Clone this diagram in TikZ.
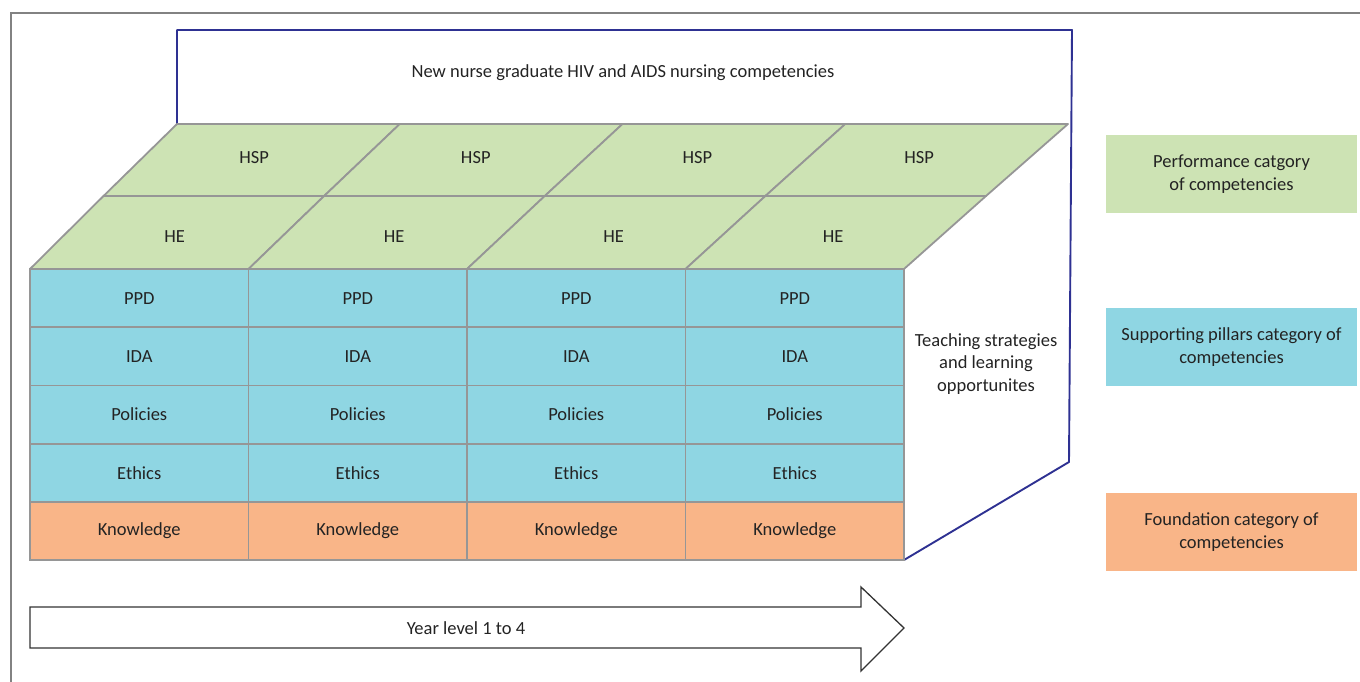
\documentclass[tikz,border=0pt]{standalone}
\usepackage{fontspec}
\setmainfont{Carlito}
\definecolor{cgreen}{RGB}{205,227,180}
\definecolor{cblue}{RGB}{143,214,227}
\definecolor{corange}{RGB}{249,181,136}
\definecolor{cgrid}{RGB}{150,150,150}
\definecolor{cnavy}{RGB}{46,49,146}
\definecolor{ctext}{RGB}{35,35,35}
\definecolor{cframe}{RGB}{130,130,130}
\begin{document}
\begin{tikzpicture}[x=1pt,y=-1pt,
  every node/.style={text=ctext,font=\fontsize{18.5}{22.5}\selectfont},
  cell/.style={draw=cgrid,line width=1.8pt,minimum width=218.5pt,minimum height=58.2pt,inner sep=0pt},
  topcell/.style={draw=cgrid,line width=1.8pt,fill=cgreen,line join=round},
  legend/.style={minimum width=251pt,minimum height=78pt,inner sep=0pt,align=center},
  plain/.style={inner sep=0pt,align=center}]
\useasboundingbox (0,0) rectangle (1360,682);
% outer frame
\draw[cframe,line width=1.3pt] (11,690) -- (11,13) -- (1370,13);
% blue outline
\draw[cnavy,line width=1.9pt,line join=round] (177,124) -- (177,30) -- (1072,30) -- (1069,462) -- (904,560);
\node[plain] (title) at (623,73) {New nurse graduate HIV and AIDS nursing competencies};
% top face
\foreach \i in {0,1,2,3}{
  \pgfmathsetmacro{\ba}{177+222.75*\i}
  \pgfmathsetmacro{\bb}{177+222.75*(\i+1)}
  \pgfmathsetmacro{\ma}{103.5+220.625*\i}
  \pgfmathsetmacro{\mb}{103.5+220.625*(\i+1)}
  \pgfmathsetmacro{\fa}{30+218.5*\i}
  \pgfmathsetmacro{\fb}{30+218.5*(\i+1)}
  \draw[topcell] (\ba,124) -- (\bb,124) -- (\mb,196) -- (\ma,196) -- cycle;
  \draw[topcell] (\ma,196) -- (\mb,196) -- (\fb,269) -- (\fa,269) -- cycle;
  \node[plain] (hsp\i) at ({(\ba+\bb+\ma+\mb)/4+3},158) {HSP};
  \node[plain] (he\i) at ({(\ma+\mb+\fa+\fb)/4-2},237) {HE};
}
% front grid
\foreach \i in {0,1,2,3}{
  \pgfmathsetmacro{\cx}{30+218.5*\i+109.25}
  \node[cell,fill=cblue] (ppd\i) at (\cx,298.1) {PPD};
  \node[cell,fill=cblue] (ida\i) at (\cx,356.3) {IDA};
  \node[cell,fill=cblue] (pol\i) at (\cx,414.5) {Policies};
  \node[cell,fill=cblue] (eth\i) at (\cx,472.7) {Ethics};
  \node[cell,fill=corange] (kno\i) at (\cx,530.9) {Knowledge};
}
\node[plain] (teach) at (986,364) {Teaching strategies\\and learning\\opportunites};
% legend
\node[legend,fill=cgreen] (lperf) at (1231.5,174) {Performance catgory\\of competencies};
\node[legend,fill=cblue] (lsupp) at (1231.5,347) {Supporting pillars category of\\competencies};
\node[legend,fill=corange] (lfound) at (1231.5,532) {Foundation category of\\competencies};
% arrow
\draw[black!80,line width=1.3pt,line join=miter] (30,607) -- (861,607) -- (861,587) -- (904,628) -- (861,671) -- (861,648) -- (30,648) -- cycle;
\node[plain] (year) at (466,628) {Year level 1 to 4};
\end{tikzpicture}
\end{document}
